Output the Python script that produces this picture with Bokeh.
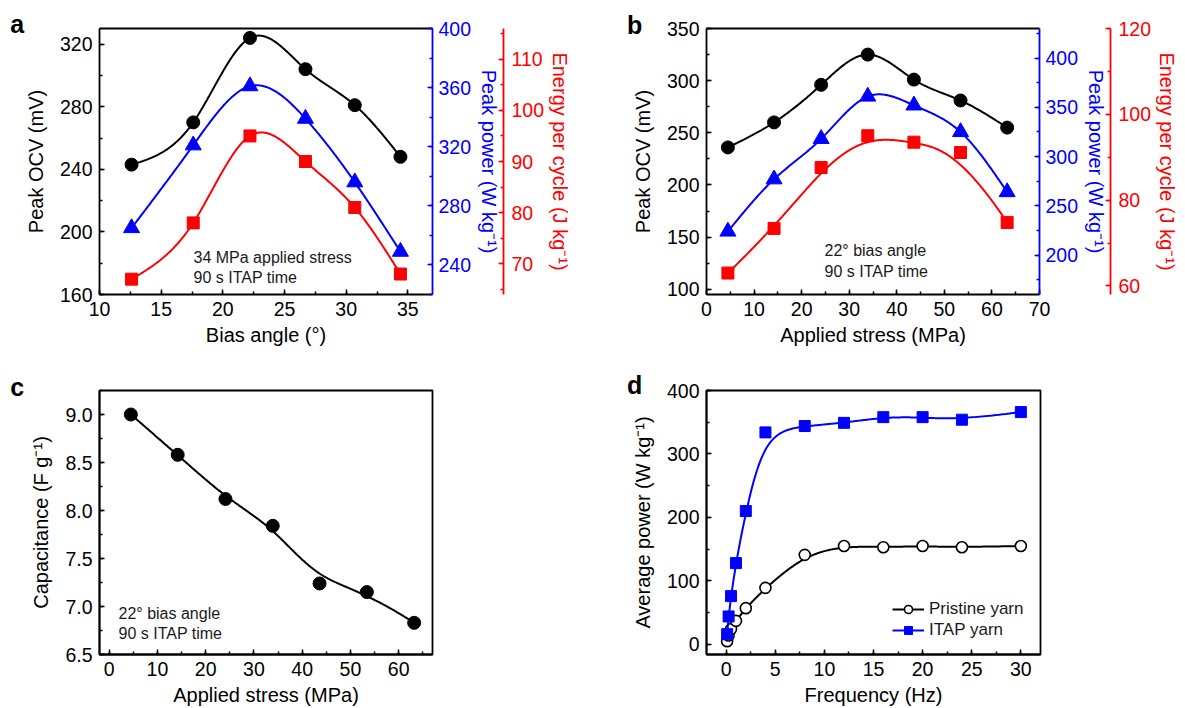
import numpy as np
from bokeh.plotting import figure
from bokeh.models import (Range1d, LinearAxis, SingleIntervalTicker, FixedTicker, Label,
                          Legend, LegendItem, PrintfTickFormatter)
from bokeh.layouts import column, row
from bokeh.embed import file_html
from bokeh.resources import INLINE

# ---------------- data ----------------
a_angle = [12.6, 17.6, 22.2, 26.7, 30.7, 34.4]
a_ocv = [243, 270, 324, 304, 281, 248]
a_power = [265, 321, 361, 339, 296, 249]
a_energy = [67, 78, 95, 90, 81, 68]

b_stress = [4.5, 14.2, 24.1, 33.9, 43.6, 53.4, 63.2]
b_ocv = [236, 260, 296, 325, 301, 281, 255]
b_power = [224, 277, 318, 361, 352, 325, 264]
b_energy = [63.0, 73.4, 87.6, 95.0, 93.5, 91.1, 74.8]

c_stress = [4.5, 14.2, 24.1, 33.9, 43.6, 53.4, 63.2]
c_cap = [9.00, 8.58, 8.12, 7.84, 7.24, 7.15, 6.83]

d_freq = [0.1, 0.25, 0.5, 1, 2, 4, 8, 12, 16, 20, 24, 30]
d_pristine = [5, 14, 24, 37, 57, 89, 141, 155, 153, 155, 153, 155]
d_itap = [16, 44, 76, 128, 210, 334, 344, 349, 358, 358, 354, 366]

FONT = "Liberation Sans"
BLUE = "#0000FF"
RED = "#FF0000"
TXT = "#1a1a1a"
TICK_FS = "19.5px"
LABEL_FS = "20px"


# ---------------- smoothing helpers ----------------
def natural_spline(x, y, n=300):
    x = np.asarray(x, float)
    y = np.asarray(y, float)
    m = len(x)
    h = np.diff(x)
    A = np.zeros((m, m))
    r = np.zeros(m)
    A[0, 0] = A[-1, -1] = 1
    for i in range(1, m - 1):
        A[i, i - 1] = h[i - 1]
        A[i, i] = 2 * (h[i - 1] + h[i])
        A[i, i + 1] = h[i]
        r[i] = 6 * ((y[i + 1] - y[i]) / h[i] - (y[i] - y[i - 1]) / h[i - 1])
    M = np.linalg.solve(A, r)
    xs = np.linspace(x[0], x[-1], n)
    idx = np.clip(np.searchsorted(x, xs) - 1, 0, m - 2)
    x0, x1 = x[idx], x[idx + 1]
    hh = x1 - x0
    t0, t1 = x1 - xs, xs - x0
    ys = (M[idx] * t0 ** 3 + M[idx + 1] * t1 ** 3) / (6 * hh) \
        + (y[idx] / hh - M[idx] * hh / 6) * t0 + (y[idx + 1] / hh - M[idx + 1] * hh / 6) * t1
    return xs, ys


def bspline(x, y, k=3, n=400):
    P = np.column_stack([np.asarray(x, float), np.asarray(y, float)])
    m = len(P)
    k = min(k, m - 1)
    knots = np.concatenate([np.zeros(k), np.linspace(0, 1, m - k + 1), np.ones(k)])
    t = np.linspace(0, 1, n)
    B = np.zeros((n, len(knots) - 1))
    for i in range(len(knots) - 1):
        B[:, i] = (t >= knots[i]) & (t < knots[i + 1])
    B[t >= 1.0, :] = 0
    B[t >= 1.0, m - 1] = 1
    for p in range(1, k + 1):
        Bn = np.zeros((n, len(knots) - 1 - p))
        for i in range(len(knots) - 1 - p):
            d1 = knots[i + p] - knots[i]
            d2 = knots[i + p + 1] - knots[i + 1]
            left = (t - knots[i]) / d1 if d1 > 0 else 0 * t
            right = (knots[i + p + 1] - t) / d2 if d2 > 0 else 0 * t
            Bn[:, i] = left * B[:, i] + right * B[:, i + 1]
        B = Bn
    C = B @ P
    return C[:, 0], C[:, 1]


# ---------------- styling helpers ----------------
def style_axis(ax, color="black"):
    ax.axis_line_color = color
    ax.axis_line_width = 1.8
    ax.major_tick_line_color = color
    ax.minor_tick_line_color = color
    ax.major_tick_line_width = 1.5
    ax.minor_tick_line_width = 1.5
    ax.major_label_text_color = color
    ax.axis_label_text_color = color
    ax.major_label_text_font = FONT
    ax.axis_label_text_font = FONT
    ax.major_label_text_font_size = TICK_FS
    ax.axis_label_text_font_size = LABEL_FS
    ax.axis_label_text_font_style = "normal"
    ax.major_tick_in, ax.major_tick_out = 5, 0
    ax.minor_tick_in, ax.minor_tick_out = 3, 0


def make_fig(w, h, xr, yr, bl, br, bt, bb, outline=True):
    p = figure(width=w, height=h, x_range=Range1d(*xr), y_range=Range1d(*yr),
               output_backend="svg", toolbar_location=None,
               min_border_left=bl, min_border_right=br, min_border_top=bt, min_border_bottom=bb)
    p.grid.visible = False
    p.background_fill_color = "white"
    p.border_fill_color = "white"
    if outline:
        p.outline_line_color = "black"
        p.outline_line_width = 1.8
    else:
        p.outline_line_color = None
        top = LinearAxis(ticker=FixedTicker(ticks=[]))
        top.axis_line_color = "black"
        top.axis_line_width = 1.8
        top.major_tick_line_color = None
        top.minor_tick_line_color = None
        top.major_label_text_font_size = "0px"
        top.major_label_standoff = 0
        top.major_tick_out = 0
        top.minor_tick_out = 0
        p.add_layout(top, "above")
    return p


def base_axes(p, xint, yint, xlabel, ylabel):
    xa = p.below[0]
    ya = p.left[0]
    xa.ticker = SingleIntervalTicker(interval=xint, num_minor_ticks=2)
    ya.ticker = SingleIntervalTicker(interval=yint, num_minor_ticks=2)
    xa.axis_label = xlabel
    ya.axis_label = ylabel
    style_axis(xa)
    style_axis(ya)
    xa.major_label_standoff = 7
    xa.axis_label_standoff = 5
    ya.major_label_standoff = 7
    ya.axis_label_standoff = 10
    return xa, ya


def add_note(p, x, y, text):
    p.add_layout(Label(x=x, y=y, x_units="screen", y_units="screen", text=text,
                       text_font=FONT, text_font_size="16px", text_color=TXT,
                       text_baseline="alphabetic"))


def add_letter(p, x, y, text):
    # x, y in data units of the panel (placed in the left side panel so it is not clipped)
    p.add_layout(Label(x=x, y=y, text=text, text_font=FONT, text_font_size="25px",
                       text_color="black", text_font_style="bold",
                       text_baseline="alphabetic"), "left")


def right_axes(p, blue_int, red_int, blue_label, red_label):
    bax = LinearAxis(y_range_name="blue", axis_label=blue_label,
                     ticker=SingleIntervalTicker(interval=blue_int, num_minor_ticks=2))
    style_axis(bax, BLUE)
    bax.major_label_standoff = 6
    bax.axis_label_standoff = 4
    p.add_layout(bax, "right")
    spacer = LinearAxis(y_range_name="blue", ticker=FixedTicker(ticks=[]))
    spacer.axis_line_color = None
    spacer.major_tick_line_color = None
    spacer.minor_tick_line_color = None
    spacer.major_tick_in = 0
    spacer.major_tick_out = 13
    spacer.minor_tick_out = 0
    spacer.major_label_standoff = 0
    spacer.major_label_text_font_size = "0px"
    p.add_layout(spacer, "right")
    rax = LinearAxis(y_range_name="red", axis_label=red_label,
                     ticker=SingleIntervalTicker(interval=red_int, num_minor_ticks=2))
    style_axis(rax, RED)
    rax.major_label_standoff = 8
    rax.axis_label_standoff = 2
    p.add_layout(rax, "right")


# ---------------- panel a ----------------
pa = make_fig(592, 354, (10, 37), (160, 330), 99, 160, 28, 60, outline=False)
pa.extra_y_ranges = {"blue": Range1d(220, 400), "red": Range1d(64, 116)}
base_axes(pa, 5, 40, "Bias angle (°)", "Peak OCV (mV)")
right_axes(pa, 40, 10, "Peak power (W kg⁻¹)", "Energy per cycle (J kg⁻¹)")

xs, ys = natural_spline(a_angle, a_ocv)
pa.line(xs, ys, color="black", line_width=2)
pa.scatter(a_angle, a_ocv, marker="circle", size=13, color="black")
xs, ys = natural_spline(a_angle, a_power)
pa.line(xs, ys, color=BLUE, line_width=2, y_range_name="blue")
pa.scatter(a_angle, a_power, marker="triangle", size=16, color=BLUE, y_range_name="blue")
xs, ys = natural_spline(a_angle, a_energy)
pa.line(xs, ys, color=RED, line_width=2, y_range_name="red")
pa.scatter(a_angle, a_energy, marker="square", size=12, color=RED, y_range_name="red")
add_note(pa, 94, 37, "34 MPa applied stress")
add_note(pa, 94, 17, "90 s ITAP time")
add_letter(pa, 2.77, 332.6, "a")

# ---------------- panel b ----------------
pb = make_fig(593, 354, (0, 70), (95, 350), 114, 146, 28, 60, outline=False)
pb.extra_y_ranges = {"blue": Range1d(160, 430), "red": Range1d(58, 120)}
base_axes(pb, 10, 50, "Applied stress (MPa)", "Peak OCV (mV)")
right_axes(pb, 50, 20, "Peak power (W kg⁻¹)", "Energy per cycle (J kg⁻¹)")

xs, ys = natural_spline(b_stress, b_ocv)
pb.line(xs, ys, color="black", line_width=2)
pb.scatter(b_stress, b_ocv, marker="circle", size=13, color="black")
xs, ys = natural_spline(b_stress, b_power)
pb.line(xs, ys, color=BLUE, line_width=2, y_range_name="blue")
pb.scatter(b_stress, b_power, marker="triangle", size=16, color=BLUE, y_range_name="blue")
xs, ys = bspline(b_stress, b_energy)
pb.line(xs, ys, color=RED, line_width=2, y_range_name="red")
pb.scatter(b_stress, b_energy, marker="square", size=12, color=RED, y_range_name="red")
add_note(pb, 118, 44, "22° bias angle")
add_note(pb, 118, 23, "90 s ITAP time")
add_letter(pb, -16.7, 353.8, "b")

# ---------------- panel c ----------------
pc = make_fig(592, 354, (-2, 67), (6.5, 9.25), 99, 160, 36, 52, outline=True)
xa, ya = base_axes(pc, 10, 0.5, "Applied stress (MPa)", "Capacitance (F g⁻¹)")
ya.formatter = PrintfTickFormatter(format="%.1f")
xs, ys = bspline(c_stress, c_cap)
pc.line(xs, ys, color="black", line_width=2)
pc.scatter(c_stress, c_cap, marker="circle", size=13, color="black")
add_note(pc, 19, 41, "22° bias angle")
add_note(pc, 19, 21, "90 s ITAP time")
add_letter(pc, -20.5, 9.291, "c")

# ---------------- panel d ----------------
pd_ = make_fig(593, 354, (-2, 32), (-16, 400), 114, 145, 36, 52, outline=True)
base_axes(pd_, 5, 100, "Frequency (Hz)", "Average power (W kg⁻¹)")
xs, ys = bspline(d_freq, d_pristine)
l1 = pd_.line(xs, ys, color="black", line_width=2)
s1 = pd_.scatter(d_freq, d_pristine, marker="circle", size=11, fill_color="white",
                 line_color="black", line_width=1.6)
xs, ys = bspline(d_freq, d_itap)
l2 = pd_.line(xs, ys, color=BLUE, line_width=2)
s2 = pd_.scatter(d_freq, d_itap, marker="square", size=11, color=BLUE)
leg = Legend(items=[LegendItem(label="Pristine yarn", renderers=[l1, s1]),
                    LegendItem(label="ITAP yarn", renderers=[l2, s2])],
             location=(186, 14), glyph_width=32, glyph_height=20, label_standoff=5,
             spacing=1, padding=0, margin=0, border_line_color=None,
             background_fill_alpha=0, label_text_font=FONT, label_text_font_size="17px",
             label_text_color=TXT)
pd_.add_layout(leg, "center")
add_letter(pd_, -10.1, 407.9, "d")

layout = column(row(pa, pb, spacing=0), row(pc, pd_, spacing=0), spacing=0)
open("out.html", "w").write(file_html(layout, INLINE))
